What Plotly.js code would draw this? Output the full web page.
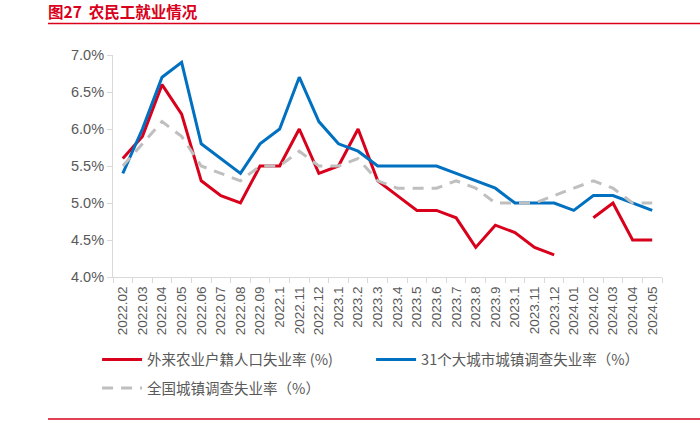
<!DOCTYPE html>
<html>
<head>
<meta charset="utf-8">
<script src="https://cdn.plot.ly/plotly-3.0.1.min.js"></script>
<style>html,body{margin:0;padding:0;background:#fff}#chart{width:700px;height:423px}</style>
</head>
<body>
<div id="chart"></div>
<script>
// category keys (unique) and displayed tick labels
const months = ["2022-02","2022-03","2022-04","2022-05","2022-06","2022-07","2022-08","2022-09","2022-10","2022-11","2022-12",
  "2023-01","2023-02","2023-03","2023-04","2023-05","2023-06","2023-07","2023-08","2023-09","2023-10","2023-11","2023-12",
  "2024-01","2024-02","2024-03","2024-04","2024-05"];
const tickLabels = ["2022.02","2022.03","2022.04","2022.05","2022.06","2022.07","2022.08","2022.09","2022.1","2022.11","2022.12",
  "2023.1","2023.2","2023.3","2023.4","2023.5","2023.6","2023.7","2023.8","2023.9","2023.1","2023.11","2023.12",
  "2024.01","2024.02","2024.03","2024.04","2024.05"];
const migrantRate = [5.6,5.9,6.6,6.2,5.3,5.1,5.0,5.5,5.5,6.0,5.4,5.5,6.0,5.3,5.1,4.9,4.9,4.8,4.4,4.7,4.6,4.4,4.3,null,4.8,5.0,4.5,4.5];
const city31Rate = [5.4,6.0,6.7,6.9,5.8,5.6,5.4,5.8,6.0,6.7,6.1,5.8,5.7,5.5,5.5,5.5,5.5,5.4,5.3,5.2,5.0,5.0,5.0,4.9,5.1,5.1,5.0,4.9];
const nationalRate = [5.5,5.8,6.1,5.9,5.5,5.4,5.3,5.5,5.5,5.7,5.5,5.5,5.6,5.3,5.2,5.2,5.2,5.3,5.2,5.0,5.0,5.0,5.1,5.2,5.3,5.2,5.0,5.0];
const seriesNames = ["外来农业户籍人口失业率 (%)","31个大城市城镇调查失业率（%）","全国城镇调查失业率（%）"];

const FONT = "Liberation Sans, Arial, 'Noto Sans CJK SC', sans-serif";
const GRAY = "#595959";
const RED = "#d9001b";

const traces = [
  {x: months, y: migrantRate, name: seriesNames[0], type: "scatter", mode: "lines",
   line: {color: RED, width: 3}, connectgaps: false, legend: "legend"},
  {x: months, y: city31Rate, name: seriesNames[1], type: "scatter", mode: "lines",
   line: {color: "#0070c0", width: 3}, legend: "legend"},
  {x: months, y: nationalRate, name: seriesNames[2], type: "scatter", mode: "lines",
   line: {color: "#bfbfbf", width: 3, dash: "11px,8px"}, legend: "legend2"}
];

const legendFont = {family: "'Noto Sans CJK SC', sans-serif", size: 14.5, color: GRAY};

const layout = {
  width: 700, height: 423,
  margin: {l: 113, r: 38, t: 55, b: 146},
  paper_bgcolor: "#fff", plot_bgcolor: "#fff",
  font: {family: FONT, color: GRAY, size: 13},
  title: {text: "<b>图27&nbsp;&nbsp;农民工就业情况</b>", x: 48/700, xanchor: "left", xref: "container",
          y: 1 - 12.5/423, yanchor: "middle", yref: "container",
          font: {family: "'Noto Sans CJK SC', sans-serif", size: 15.5, color: RED}},
  showlegend: true,
  legend: {orientation: "h", x: -0.029, xanchor: "left", y: -0.30, yanchor: "top",
           entrywidth: 219, entrywidthmode: "pixels", itemwidth: 40,
           bgcolor: "rgba(0,0,0,0)", font: legendFont},
  legend2: {orientation: "h", x: -0.029, xanchor: "left", y: -0.428, yanchor: "top",
           itemwidth: 40, bgcolor: "rgba(0,0,0,0)", font: legendFont},
  xaxis: {type: "category", categoryorder: "array", categoryarray: months,
          tickmode: "array", tickvals: months, ticktext: tickLabels,
          tickson: "boundaries", ticks: "outside", ticklen: 5, tickcolor: "#d9d9d9",
          tickangle: -90, showline: true, linecolor: "#d9d9d9", linewidth: 1,
          showgrid: false, zeroline: false, range: [-0.5, 27.5], ticklabelstandoff: 3,
          tickfont: {size: 13.5, color: GRAY, family: FONT}},
  yaxis: {range: [4, 7], dtick: 0.5, tick0: 4, tickformat: ".1f", ticksuffix: "%",
          ticks: "outside", ticklen: 5, tickcolor: "#d9d9d9",
          showline: true, linecolor: "#d9d9d9", linewidth: 1,
          showgrid: false, zeroline: false,
          tickfont: {size: 14.5, color: GRAY, family: FONT}},
  shapes: [
    {type: "line", xref: "paper", yref: "paper", x0: (48-113)/549, x1: (700-113)/549,
     y0: (277-23.5)/222, y1: (277-23.5)/222, line: {color: RED, width: 1.5}},
    {type: "line", xref: "paper", yref: "paper", x0: (48-113)/549, x1: (700-113)/549,
     y0: (277-419)/222, y1: (277-419)/222, line: {color: RED, width: 1.5}}
  ]
};

Plotly.newPlot("chart", traces, layout, {displayModeBar: false, staticPlot: true});
</script>
</body>
</html>
